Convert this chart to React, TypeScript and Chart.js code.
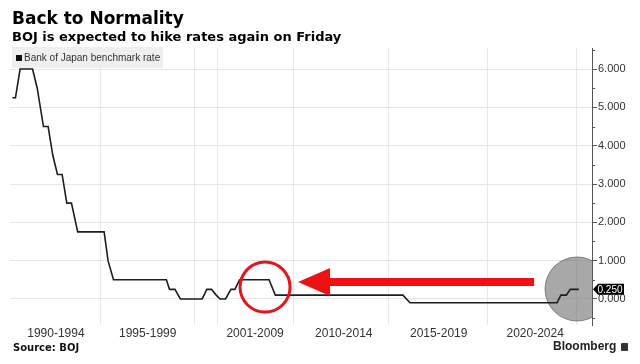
import React, { useEffect, useRef } from 'react';
import { Chart, registerables } from 'chart.js';

Chart.register(...registerables);

// ---- Data (x = sequential observation index of the plotted series; BOJ had no rate target 2001-2006) ----
const periodLabels = ['1990-1994', '1995-1999', '2001-2009', '2010-2014', '2015-2019', '2020-2024'];
const periodCenters = [28, 87, 156, 213, 274, 336];
const periodBounds = [56.5, 117, 132, 180.5, 241.5, 305.5, 362.5];

const obsIndex = [0, 2, 5, 13, 16, 20, 23, 26, 29, 32, 35, 38, 42, 59, 61.5, 65, 99, 101, 104.5, 108, 122, 125, 128, 131, 133.5, 137, 140.5, 143, 146, 165, 167, 169, 251, 255.5, 350, 352.5, 356, 358.5, 364];
const rateValues = [5.25, 5.25, 6.0, 6.0, 5.5, 4.5, 4.5, 3.75, 3.25, 3.25, 2.5, 2.5, 1.75, 1.75, 1.0, 0.5, 0.5, 0.25, 0.25, 0, 0, 0.25, 0.25, 0.1, 0, 0, 0.25, 0.25, 0.5, 0.5, 0.3, 0.1, 0.1, -0.1, -0.1, 0.1, 0.1, 0.25, 0.25];

const yMajorTicks = [0, 1, 2, 3, 4, 5, 6];
const yMinorTicks = [-0.5, 0.5, 1.5, 2.5, 3.5, 4.5, 5.5, 6.5];

const xRange = { min: -1.5, max: 372.5 };
const yRange = { min: -0.68, max: 6.55 };

// annotation anchors in data units
const redCircle = { x: 162.4, y: 0.31, r: 25 };
const redArrow = { tipX: 183.6, tailX: 335.3, y: 0.44 };
const greyCircle = { x: 362.9, y: 0.26, r: 32 };

const annotationPlugin = {
  id: 'bojAnnotations',
  beforeDatasetsDraw(chart: any) {
    const { ctx, chartArea, scales } = chart;
    const xs = scales.x, ys = scales.y;
    ctx.save();
    ctx.beginPath();
    ctx.rect(chartArea.left, chartArea.top, chartArea.right - chartArea.left, chartArea.bottom - chartArea.top);
    ctx.clip();
    const cx = xs.getPixelForValue(greyCircle.x);
    const cy = ys.getPixelForValue(greyCircle.y);
    ctx.beginPath();
    ctx.arc(cx, cy, greyCircle.r, 0, Math.PI * 2);
    ctx.fillStyle = 'rgba(115,115,115,0.62)';
    ctx.fill();
    ctx.strokeStyle = 'rgba(90,90,90,0.7)';
    ctx.lineWidth = 1;
    ctx.stroke();
    ctx.restore();
  },
  afterDatasetsDraw(chart: any) {
    const { ctx, scales } = chart;
    const xs = scales.x, ys = scales.y;
    ctx.save();
    // red circle
    ctx.beginPath();
    ctx.arc(xs.getPixelForValue(redCircle.x), ys.getPixelForValue(redCircle.y), redCircle.r, 0, Math.PI * 2);
    ctx.strokeStyle = '#e3161d';
    ctx.lineWidth = 3;
    ctx.stroke();
    // red arrow
    const tip = xs.getPixelForValue(redArrow.tipX);
    const tail = xs.getPixelForValue(redArrow.tailX);
    const ay = ys.getPixelForValue(redArrow.y);
    const headLen = 32, headHalf = 14, barHalf = 4;
    ctx.fillStyle = '#ee1111';
    ctx.beginPath();
    ctx.moveTo(tip, ay);
    ctx.lineTo(tip + headLen, ay - headHalf);
    ctx.lineTo(tip + headLen, ay - barHalf);
    ctx.lineTo(tail, ay - barHalf);
    ctx.lineTo(tail, ay + barHalf);
    ctx.lineTo(tip + headLen, ay + barHalf);
    ctx.lineTo(tip + headLen, ay + headHalf);
    ctx.closePath();
    ctx.fill();
    ctx.restore();
  },
  afterDraw(chart: any) {
    const { ctx, scales } = chart;
    const ys = scales.y;
    ctx.save();
    // minor ticks
    ctx.strokeStyle = '#555';
    ctx.lineWidth = 1;
    yMinorTicks.forEach((v) => {
      const py = Math.round(ys.getPixelForValue(v)) + 0.5;
      ctx.beginPath();
      ctx.moveTo(ys.left, py);
      ctx.lineTo(ys.left + 3, py);
      ctx.stroke();
    });
    // last value badge
    const last = rateValues[rateValues.length - 1];
    const by = ys.getPixelForValue(last);
    const bx = ys.left + 1;
    ctx.fillStyle = '#000';
    ctx.beginPath();
    ctx.moveTo(bx, by);
    ctx.lineTo(bx + 5, by - 5.5);
    ctx.lineTo(bx + 31, by - 5.5);
    ctx.lineTo(bx + 31, by + 5.5);
    ctx.lineTo(bx + 5, by + 5.5);
    ctx.closePath();
    ctx.fill();
    ctx.fillStyle = '#fff';
    ctx.font = "10px 'Liberation Sans', Arial, sans-serif";
    ctx.textAlign = 'left';
    ctx.textBaseline = 'middle';
    ctx.fillText(last.toFixed(3), bx + 4.5, by + 0.5);
    ctx.restore();
  },
};

export default function App() {
  const canvasRef = useRef<HTMLCanvasElement | null>(null);

  useEffect(() => {
    if (!canvasRef.current) return;
    const chart = new Chart(canvasRef.current, {
      type: 'line',
      data: {
        datasets: [
          {
            label: 'Bank of Japan benchmark rate',
            data: obsIndex.map((x, i) => ({ x, y: rateValues[i] })),
            borderColor: '#1e1e1e',
            borderWidth: 1.6,
            pointRadius: 0,
            tension: 0,
            fill: false,
            xAxisID: 'x',
            yAxisID: 'y',
          },
        ],
      },
      options: {
        animation: false,
        responsive: false,
        devicePixelRatio: 1,
        layout: { padding: { left: 10, top: 48, right: 0, bottom: 0 } },
        plugins: {
          legend: { display: false },
          title: { display: false },
          tooltip: { enabled: false },
        },
        scales: {
          x: {
            type: 'linear',
            position: 'bottom',
            min: xRange.min,
            max: xRange.max,
            grid: { display: false, drawTicks: false },
            border: { display: false },
            afterBuildTicks: (scale: any) => {
              scale.ticks = periodCenters.map((v) => ({ value: v }));
            },
            afterFit: (scale: any) => {
              scale.height = 39;
            },
            ticks: {
              autoSkip: false,
              maxRotation: 0,
              padding: 1,
              color: '#333',
              font: { family: "'Liberation Sans', Arial, sans-serif", size: 12 },
              callback: (_v: any, i: number) => periodLabels[i],
            },
          },
          xg: {
            type: 'linear',
            position: 'bottom',
            min: xRange.min,
            max: xRange.max,
            grid: { display: true, drawTicks: false, color: '#e8e8e8', lineWidth: 1 },
            border: { display: false },
            ticks: { display: false },
            afterBuildTicks: (scale: any) => {
              scale.ticks = periodBounds.map((v) => ({ value: v }));
            },
            afterFit: (scale: any) => {
              scale.height = 0;
            },
          },
          y: {
            type: 'linear',
            position: 'right',
            min: yRange.min,
            max: yRange.max,
            grid: { color: '#e6e6e6', tickColor: '#555', tickLength: 5, drawTicks: true },
            border: { display: true, color: '#555', width: 1 },
            afterBuildTicks: (scale: any) => {
              scale.ticks = yMajorTicks.map((v) => ({ value: v }));
            },
            afterFit: (scale: any) => {
              scale.width = 48;
            },
            ticks: {
              padding: 1,
              color: '#333',
              font: { family: "'Liberation Sans', Arial, sans-serif", size: 11 },
              callback: (v: any) => Number(v).toFixed(3),
            },
          },
        },
      },
      plugins: [annotationPlugin],
    } as any);
    return () => chart.destroy();
  }, []);

  const abs: React.CSSProperties = { position: 'absolute', whiteSpace: 'nowrap', margin: 0 };

  return (
    <div style={{ position: 'absolute', left: 0, top: 0, width: 640, height: 364, background: '#fff', overflow: 'hidden' }}>
      <canvas ref={canvasRef} width={640} height={364} style={{ position: 'absolute', left: 0, top: 0, display: 'block' }} />
      <div style={{ ...abs, left: 12, top: 10, fontFamily: "'DejaVu Sans', sans-serif", fontWeight: 700, fontSize: 17, lineHeight: '17px', color: '#000' }}>
        Back to Normality
      </div>
      <div style={{ ...abs, left: 12, top: 30, fontFamily: "'DejaVu Sans', sans-serif", fontWeight: 700, fontSize: 13, lineHeight: '13px', color: '#000' }}>
        BOJ is expected to hike rates again on Friday
      </div>
      <div style={{ ...abs, left: 12, top: 47, width: 151, height: 21, background: '#efefef' }}>
        <span style={{ position: 'absolute', left: 4, top: 7.5, width: 6, height: 6, background: '#111' }} />
        <span style={{ position: 'absolute', left: 12, top: 5.5, fontFamily: "'Liberation Sans', Arial, sans-serif", fontSize: 10, lineHeight: '10px', color: '#333' }}>
          Bank of Japan benchmark rate
        </span>
      </div>
      <div style={{ ...abs, left: 13, top: 342.5, fontFamily: "'DejaVu Sans', sans-serif", fontWeight: 700, fontSize: 10, lineHeight: '10px', color: '#111' }}>
        Source: BOJ
      </div>
      <div style={{ ...abs, left: 553, top: 340, fontFamily: "'Liberation Sans', Arial, sans-serif", fontWeight: 700, fontSize: 12, lineHeight: '12px', color: '#222' }}>
        Bloomberg
      </div>
      <span style={{ position: 'absolute', left: 621, top: 343, width: 7, height: 8, background: '#333', borderRadius: 1 }} />
    </div>
  );
}
